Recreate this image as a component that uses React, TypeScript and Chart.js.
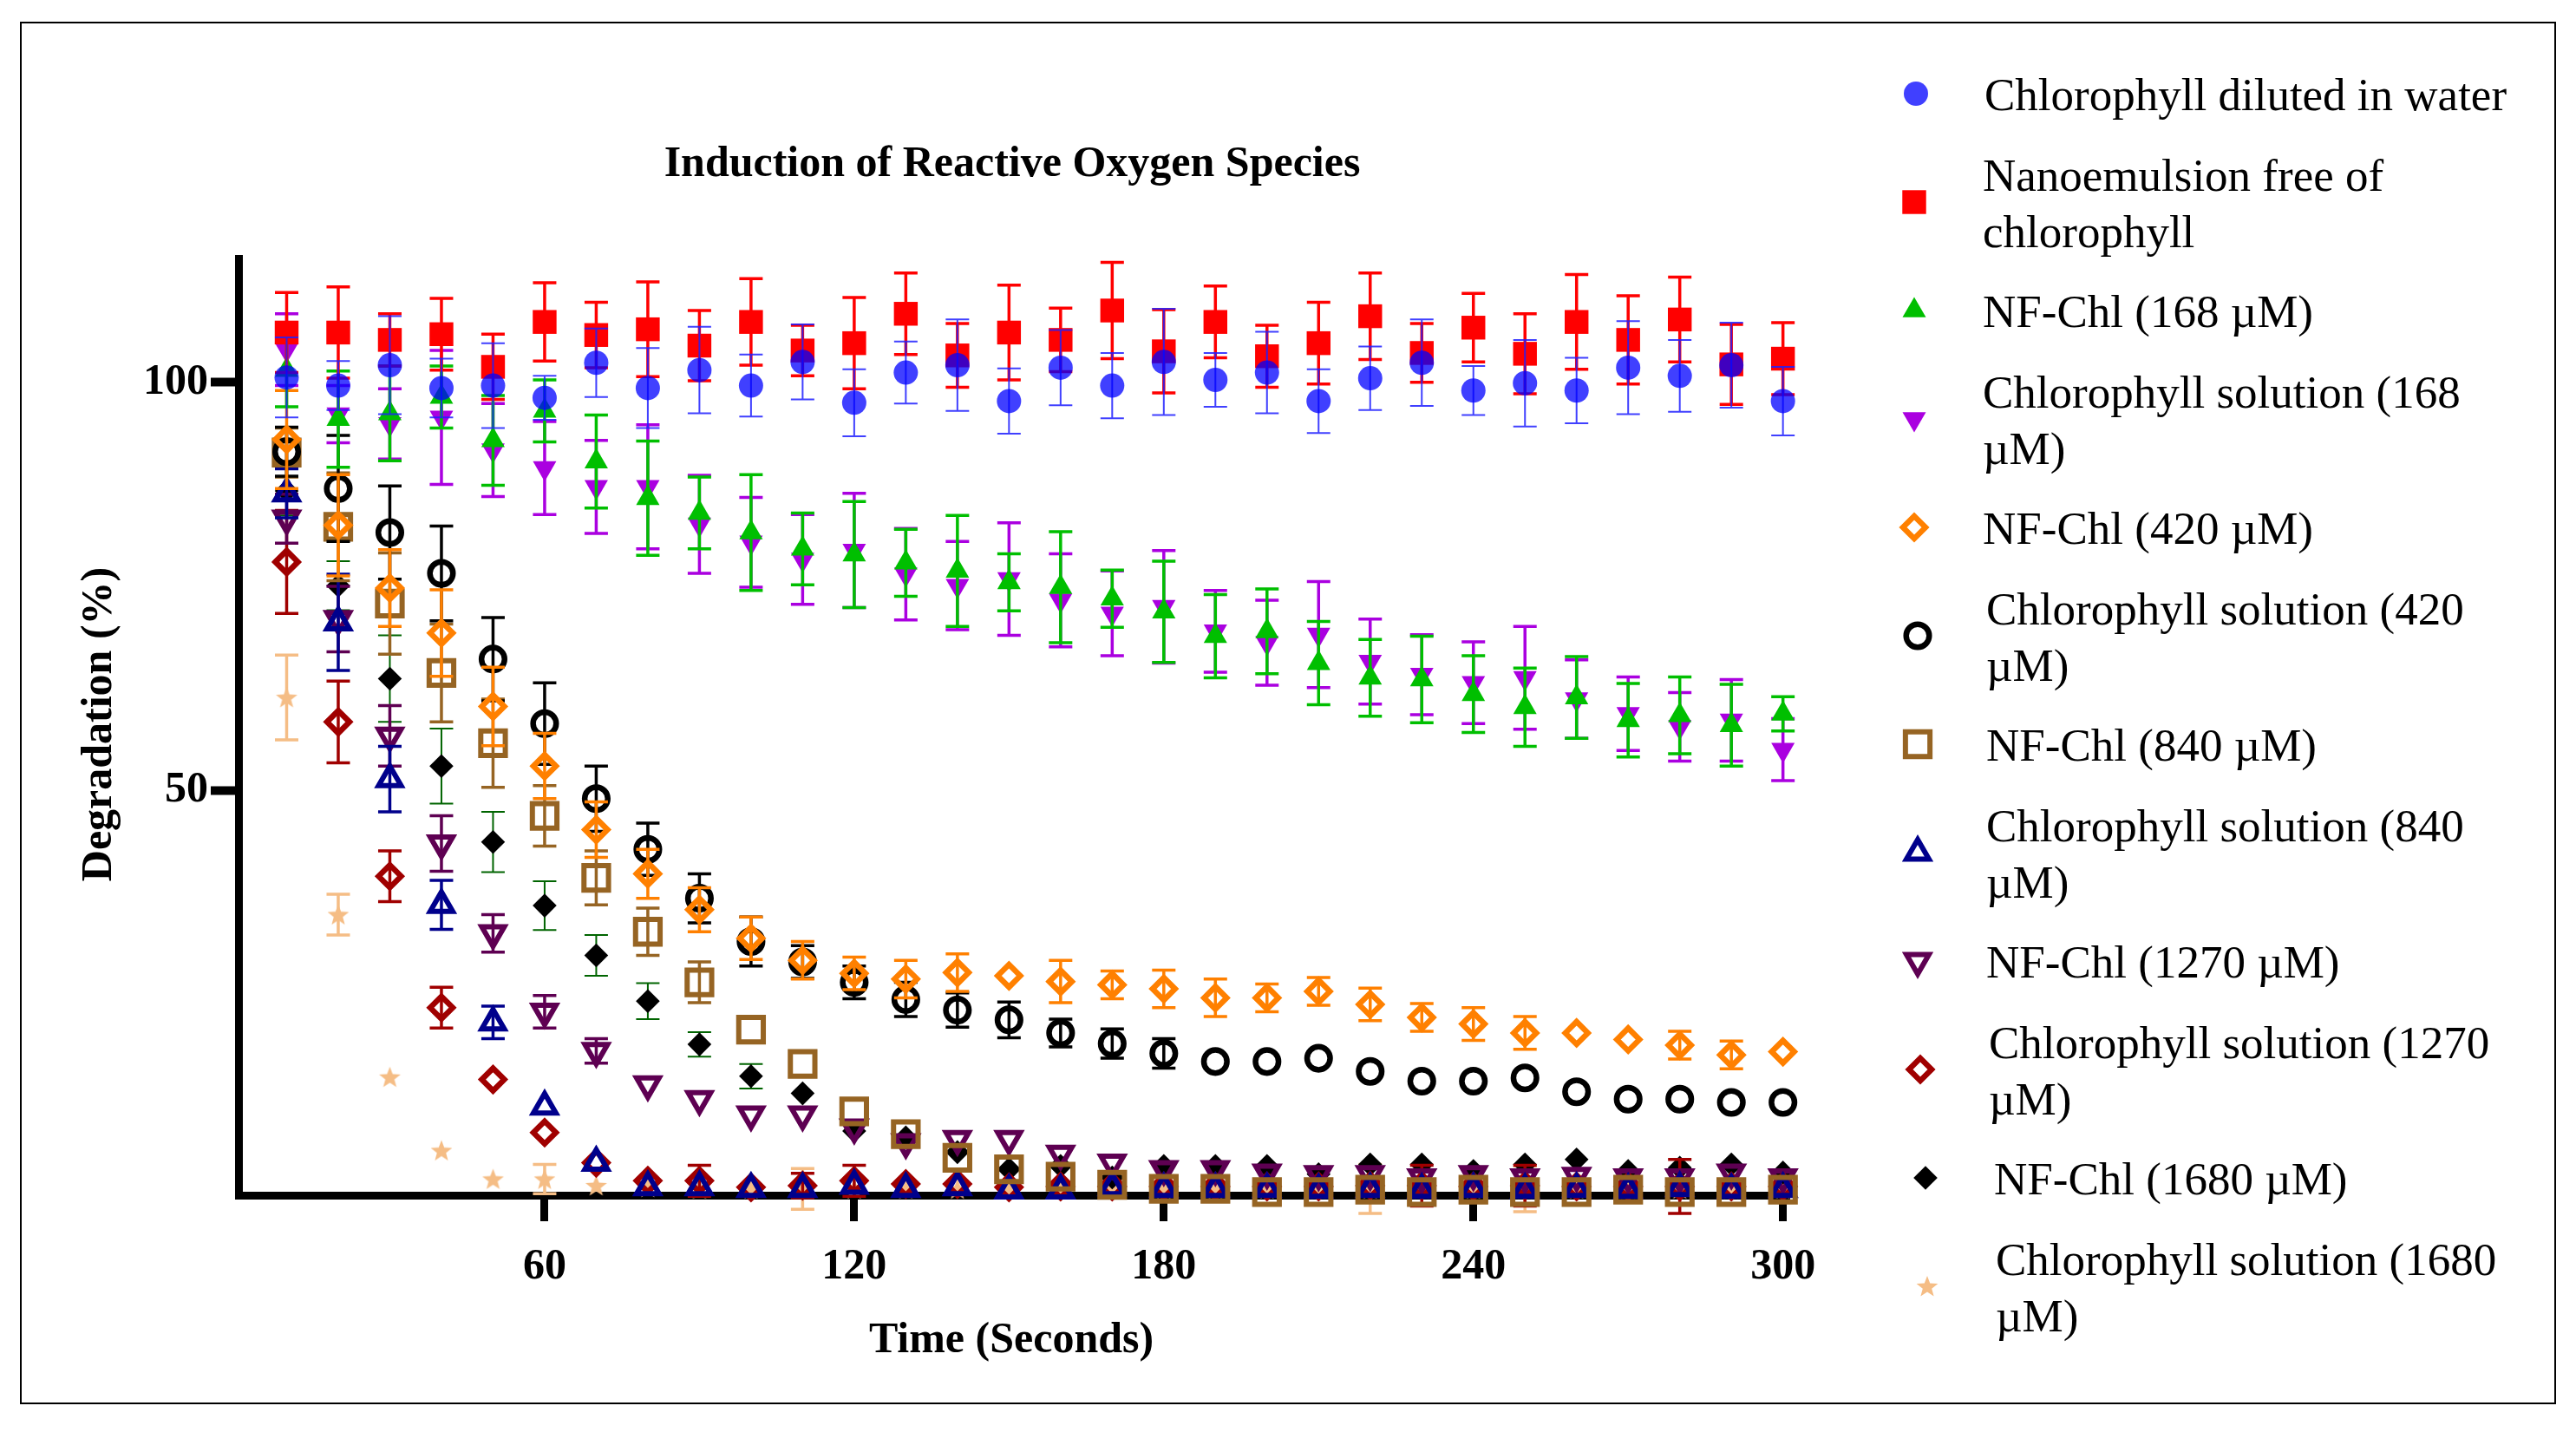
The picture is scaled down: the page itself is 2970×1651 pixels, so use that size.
import React, { useEffect, useRef } from 'react';
import { Chart, registerables, ChartConfiguration, Plugin } from 'chart.js';
import { drawPoint } from 'chart.js/helpers';

Chart.register(...registerables);

// time points (seconds)
const times = [10, 20, 30, 40, 50, 60, 70, 80, 90, 100, 110, 120, 130, 140, 150, 160, 170, 180, 190, 200, 210, 220, 230, 240, 250, 260, 270, 280, 290, 300];
const xTicks = [60, 120, 180, 240, 300];
const yTicks = [50, 100];

const chartTitle = 'Induction of Reactive Oxygen Species';
const xTitle = 'Time (Seconds)';
const yTitle = 'Degradation (%)';

const seriesNames = [
  ['Chlorophyll diluted in water'],
  ['Nanoemulsion free of', 'chlorophyll'],
  ['NF-Chl (168 µM)'],
  ['Chlorophyll solution (168', 'µM)'],
  ['NF-Chl (420 µM)'],
  ['Chlorophyll solution (420', 'µM)'],
  ['NF-Chl (840 µM)'],
  ['Chlorophyll solution (840', 'µM)'],
  ['NF-Chl (1270 µM)'],
  ['Chlorophyll solution (1270', 'µM)'],
  ['NF-Chl (1680 µM)'],
  ['Chlorophyll solution (1680', 'µM)'],
];

// degradation means
const water = [100.6, 99.6, 102.1, 99.3, 99.6, 98.1, 102.4, 99.3, 101.5, 99.6, 102.5, 97.5, 101.2, 102.1, 97.7, 101.8, 99.6, 102.5, 100.3, 101.2, 97.7, 100.5, 102.4, 99.0, 99.9, 99.0, 101.8, 100.8, 102.1, 97.7];
const nanoFree = [106.1, 106.1, 105.2, 105.9, 101.9, 107.4, 105.8, 106.5, 104.5, 107.4, 103.9, 104.8, 108.4, 103.3, 106.1, 105.2, 108.8, 103.8, 107.4, 103.2, 104.8, 108.1, 103.6, 106.7, 103.5, 107.4, 105.2, 107.7, 102.2, 102.9];
const nf168 = [101.5, 95.5, 96.2, 98.2, 92.9, 96.5, 90.3, 85.8, 84.0, 81.6, 79.6, 78.9, 77.9, 76.9, 75.5, 74.9, 73.5, 71.9, 68.9, 69.5, 65.6, 63.8, 63.6, 61.8, 60.2, 61.4, 58.6, 59.2, 58.0, 59.4];
const sol168 = [104.0, 96.1, 94.9, 95.7, 91.7, 89.5, 87.2, 87.2, 82.6, 80.4, 78.3, 79.4, 76.5, 75.1, 75.9, 73.3, 71.7, 72.5, 69.5, 68.1, 69.1, 65.8, 64.2, 63.2, 63.8, 61.2, 59.4, 57.8, 58.6, 55.0];
const nf420 = [93.0, 82.5, 74.8, 69.3, 60.3, 53.0, 45.2, 39.8, 35.4, 31.9, 29.2, 27.6, 26.9, 27.7, 27.3, 26.6, 26.2, 25.7, 24.6, 24.6, 25.4, 23.8, 22.2, 21.4, 20.3, 20.3, 19.5, 18.8, 17.6, 18.0];
const sol420 = [91.5, 87.0, 81.6, 76.6, 66.1, 58.2, 49.0, 42.8, 36.8, 31.5, 29.0, 26.5, 24.4, 23.1, 21.9, 20.3, 19.0, 17.8, 16.8, 16.8, 17.2, 15.6, 14.4, 14.4, 14.8, 13.1, 12.2, 12.2, 11.8, 11.8];
const nf840 = [91.4, 82.3, 72.9, 64.4, 55.8, 46.9, 39.3, 32.7, 26.5, 20.7, 16.5, 10.7, 7.9, 5.0, 3.6, 2.7, 1.7, 1.2, 1.2, 0.8, 0.8, 1.1, 0.8, 1.1, 0.8, 0.8, 1.1, 0.8, 0.8, 1.1];
const sol840 = [86.4, 70.6, 51.4, 36.0, 21.6, 11.3, 4.4, 1.4, 1.4, 1.2, 1.2, 1.6, 1.2, 1.4, 1.0, 1.0, 1.4, 1.2, 1.2, 1.2, 1.1, 1.2, 1.1, 1.2, 1.1, 1.2, 1.1, 1.3, 1.1, 1.2];
const nf1270 = [83.3, 71.0, 56.7, 43.5, 32.5, 22.9, 18.1, 14.0, 12.2, 10.3, 10.3, 8.7, 6.9, 7.3, 7.3, 5.5, 4.4, 3.6, 3.6, 3.2, 3.0, 3.0, 2.6, 3.0, 2.6, 2.8, 2.6, 2.6, 3.2, 2.6];
const sol1270 = [78.0, 58.4, 39.5, 23.4, 14.6, 8.1, 4.4, 2.2, 2.2, 1.4, 1.6, 2.2, 1.8, 1.8, 1.4, 1.5, 1.5, 1.5, 1.5, 1.5, 1.5, 1.6, 1.6, 1.5, 1.6, 1.5, 1.5, 1.5, 1.5, 1.5];
const nf1680 = [86.7, 75.1, 63.7, 53.0, 43.7, 35.9, 29.8, 24.2, 18.9, 15.0, 12.9, 8.3, 7.5, 5.7, 3.6, 4.0, 2.6, 4.0, 4.0, 4.0, 3.0, 4.2, 4.2, 3.4, 4.2, 4.8, 3.4, 3.8, 4.2, 3.2];
const sol1680 = [61.4, 34.8, 14.9, 5.9, 2.4, 2.4, 1.6, 1.4, 1.2, 1.2, 1.2, 1.2, 1.2, 1.2, 1.2, 1.2, 1.2, 1.2, 1.2, 1.2, 1.2, 1.2, 1.2, 1.2, 1.2, 1.2, 1.2, 1.2, 1.2, 1.2];

// error bars (± SD), 0 = hidden behind the marker
const waterErr = [4.9, 3.0, 6.0, 3.6, 5.2, 2.7, 4.2, 4.9, 5.3, 3.8, 4.6, 4.1, 3.8, 5.6, 4.0, 4.6, 4.0, 6.5, 3.3, 5.0, 3.9, 3.9, 5.3, 3.0, 5.3, 4.0, 5.7, 4.4, 5.2, 4.2];
const nanoFreeErr = [4.9, 5.6, 3.2, 4.4, 4.0, 4.8, 4.0, 5.8, 4.3, 5.3, 3.1, 5.6, 5.0, 3.9, 5.8, 3.9, 5.9, 5.1, 4.4, 3.8, 5.0, 5.3, 3.6, 4.2, 4.9, 5.8, 5.4, 5.2, 4.9, 4.4];
const nf168Err = [4.5, 5.9, 5.8, 3.8, 5.5, 3.8, 5.7, 7.0, 4.4, 7.1, 4.4, 6.5, 4.1, 6.8, 3.5, 6.8, 3.5, 6.2, 5.1, 5.2, 5.1, 4.7, 5.3, 4.7, 4.8, 5.0, 4.5, 4.7, 5.0, 2.1];
const sol168Err = [4.4, 3.5, 4.3, 8.2, 5.7, 5.7, 5.7, 7.6, 6.0, 5.5, 5.5, 7.0, 5.6, 5.4, 6.9, 5.7, 5.2, 6.9, 5.0, 5.2, 6.5, 5.2, 4.9, 5.0, 6.3, 4.8, 4.5, 4.2, 5.0, 3.8];
const nf420Err = [6.0, 6.2, 4.7, 5.3, 4.8, 4.0, 3.4, 3.0, 2.7, 2.6, 2.3, 2.0, 2.3, 2.3, 0, 2.6, 1.7, 2.3, 2.3, 1.7, 1.7, 2.0, 1.7, 2.0, 2.0, 0, 0, 1.7, 1.7, 0];
const sol420Err = [3.0, 6.5, 5.7, 5.8, 5.1, 5.0, 4.0, 3.2, 3.0, 3.0, 2.0, 2.0, 2.1, 2.1, 2.2, 1.7, 1.8, 1.8, 0, 0, 0, 0, 0, 0, 0, 0, 0, 0, 0, 0];
const nf840Err = [3.0, 6.6, 6.2, 6.0, 5.4, 3.7, 3.3, 2.9, 2.5, 0, 0, 0, 0, 0, 0, 0, 0, 0, 0, 0, 0, 0, 0, 0, 0, 0, 0, 0, 0, 0];
const sol840Err = [3.0, 5.9, 4.0, 3.0, 2.0, 0, 0, 0, 0, 0, 0, 0, 0, 0, 0, 0, 0, 0, 0, 0, 0, 0, 0, 0, 0, 0, 0, 0, 0, 0];
const nf1270Err = [3.0, 4.0, 3.7, 3.4, 2.3, 2.0, 1.5, 0, 0, 0, 0, 0, 0, 0, 0, 0, 0, 0, 0, 0, 0, 0, 0, 0, 0, 0, 0, 0, 0, 0];
const sol1270Err = [6.3, 5.0, 3.1, 2.5, 0, 0, 0, 0, 1.9, 0, 1.5, 1.9, 0, 0, 0, 0, 0, 0, 0, 0, 0, 0, 2.5, 0, 2.5, 0, 0, 3.3, 0, 0];
const nf1680Err = [3.0, 3.0, 5.3, 4.6, 3.7, 3.0, 2.5, 2.2, 1.5, 1.5, 0, 0, 0, 0, 0, 0, 0, 0, 0, 0, 0, 0, 0, 0, 0, 0, 0, 0, 0, 0];
const sol1680Err = [5.2, 2.5, 0, 0, 0, 1.8, 0, 0, 0, 0, 2.5, 0, 0, 0, 0, 0, 0, 0, 0, 0, 0, 3.0, 0, 0, 2.8, 0, 0, 0, 0, 0];

const seriesMeans = [water, nanoFree, nf168, sol168, nf420, sol420, nf840, sol840, nf1270, sol1270, nf1680, sol1680];
const seriesErrors = [waterErr, nanoFreeErr, nf168Err, sol168Err, nf420Err, sol420Err, nf840Err, sol840Err, nf1270Err, sol1270Err, nf1680Err, sol1680Err];

const NONE = 'rgba(0,0,0,0)';
const FONT = '"Liberation Serif", "Times New Roman", serif';

interface MarkStyle {
  shape: string;
  radius: number;
  rotation?: number;
  fill: string;
  stroke: string;
  strokeWidth: number;
  bar: string;
  barWidth: number;
}

const markStyles: MarkStyle[] = [
  { shape: 'circle', radius: 14, fill: 'rgba(0,0,255,0.75)', stroke: NONE, strokeWidth: 0, bar: 'rgba(30,30,255,0.85)', barWidth: 2 },
  { shape: 'rect', radius: 19.4, fill: '#ff0000', stroke: NONE, strokeWidth: 0, bar: '#ff0000', barWidth: 3.5 },
  { shape: 'triangle', radius: 15.6, fill: '#00bf00', stroke: NONE, strokeWidth: 0, bar: '#00bf00', barWidth: 3.5 },
  { shape: 'triangle', radius: 15.6, rotation: 180, fill: '#aa00e0', stroke: NONE, strokeWidth: 0, bar: '#aa00e0', barWidth: 3.5 },
  { shape: 'rectRot', radius: 13, fill: NONE, stroke: '#ff8000', strokeWidth: 6.5, bar: '#ff8000', barWidth: 3.5 },
  { shape: 'circle', radius: 13.3, fill: NONE, stroke: '#000000', strokeWidth: 6.5, bar: '#000000', barWidth: 3.5 },
  { shape: 'rect', radius: 20, fill: NONE, stroke: '#966423', strokeWidth: 6, bar: '#966423', barWidth: 3.5 },
  { shape: 'triangle', radius: 15, fill: NONE, stroke: '#00008c', strokeWidth: 6, bar: '#00008c', barWidth: 3.5 },
  { shape: 'triangle', radius: 15, rotation: 180, fill: NONE, stroke: '#5e0052', strokeWidth: 6, bar: '#5e0052', barWidth: 3.5 },
  { shape: 'rectRot', radius: 13, fill: NONE, stroke: '#a00000', strokeWidth: 6.5, bar: '#a00000', barWidth: 3.5 },
  { shape: 'rectRot', radius: 13.8, fill: '#000000', stroke: NONE, strokeWidth: 0, bar: '#006400', barWidth: 2 },
  { shape: 'star', radius: 13, fill: '#f5bd85', stroke: NONE, strokeWidth: 0, bar: '#f5bd85', barWidth: 3.5 },
];

// legend nudges seen in the original (x offset of marker / text)
const legendShift = [0, -2, -2, -2, -2, 2, 2, 2, 2, 5, 11, 13];

function makeStar(color: string, r: number): HTMLCanvasElement {
  const c = document.createElement('canvas');
  const size = Math.ceil(r * 2 + 2);
  c.width = size;
  c.height = size;
  const g = c.getContext('2d')!;
  const cx = size / 2;
  const cy = size / 2 + 1;
  g.fillStyle = color;
  g.beginPath();
  for (let k = 0; k < 10; k++) {
    const rr = k % 2 === 0 ? r : r * 0.42;
    const a = -Math.PI / 2 + (k * Math.PI) / 5;
    const px = cx + rr * Math.cos(a);
    const py = cy + rr * Math.sin(a);
    if (k === 0) g.moveTo(px, py);
    else g.lineTo(px, py);
  }
  g.closePath();
  g.fill();
  return c;
}

const errorBars: Plugin<'scatter'> = {
  id: 'errorBars',
  beforeDatasetDraw(chart, args) {
    const { ctx, scales } = chart;
    const i = args.index;
    const st = markStyles[i];
    const means = seriesMeans[i];
    const errs = seriesErrors[i];
    const cap = 13.5;
    ctx.save();
    ctx.strokeStyle = st.bar;
    ctx.lineWidth = st.barWidth;
    ctx.lineCap = 'butt';
    times.forEach((t, k) => {
      const e = errs[k];
      if (!e) return;
      const x = scales.x.getPixelForValue(t);
      const yTop = scales.y.getPixelForValue(means[k] + e);
      const yBot = scales.y.getPixelForValue(means[k] - e);
      ctx.beginPath();
      ctx.moveTo(x, yTop);
      ctx.lineTo(x, yBot);
      ctx.moveTo(x - cap, yTop);
      ctx.lineTo(x + cap, yTop);
      ctx.moveTo(x - cap, yBot);
      ctx.lineTo(x + cap, yBot);
      ctx.stroke();
    });
    ctx.restore();
  },
};

const axisLines: Plugin<'scatter'> = {
  id: 'axisLines',
  beforeDatasetsDraw(chart) {
    const { ctx, chartArea } = chart;
    ctx.save();
    ctx.fillStyle = '#000';
    // y axis
    ctx.fillRect(chartArea.left, 294, 9, chartArea.bottom + 1 - 294);
    // x axis
    ctx.fillRect(chartArea.left, chartArea.bottom - 8, chartArea.right - chartArea.left, 9);
    ctx.restore();
  },
};

const textAndLegend = (star: HTMLCanvasElement): Plugin<'scatter'> => ({
  id: 'textAndLegend',
  afterDraw(chart) {
    const { ctx } = chart;
    ctx.save();
    ctx.fillStyle = '#000';
    ctx.textBaseline = 'alphabetic';

    ctx.font = `bold 50px ${FONT}`;
    ctx.textAlign = 'center';
    ctx.fillText(chartTitle, 1167, 203);
    ctx.fillText(xTitle, 1166, 1559);

    ctx.save();
    ctx.translate(128, 835);
    ctx.rotate(-Math.PI / 2);
    ctx.fillText(yTitle, 0, 0);
    ctx.restore();

    ctx.font = `53px ${FONT}`;
    ctx.textAlign = 'left';
    seriesNames.forEach((lines, i) => {
      const slot = 127 + 125 * i;
      const st = markStyles[i];
      const dx = legendShift[i];
      ctx.save();
      ctx.fillStyle = st.fill;
      ctx.strokeStyle = st.stroke;
      ctx.lineWidth = st.strokeWidth;
      drawPoint(
        ctx,
        {
          pointStyle: st.shape === 'star' ? star : (st.shape as any),
          radius: st.radius,
          rotation: st.rotation || 0,
          borderWidth: st.strokeWidth,
        } as any,
        2209 + dx,
        slot - 19,
      );
      ctx.restore();
      lines.forEach((line, j) => {
        const y = slot + 65 * (j - (lines.length - 1) / 2);
        ctx.fillText(line, 2288 + dx, y);
      });
    });
    ctx.restore();
  },
});

const tickFont = { family: FONT, size: 50, weight: 'bold' as const };

function buildConfig(star: HTMLCanvasElement): ChartConfiguration<'scatter'> {
  return {
    type: 'scatter',
    data: {
      datasets: seriesMeans.map((means, i) => {
        const st = markStyles[i];
        return {
          label: seriesNames[i].join(' '),
          data: times.map((t, k) => ({ x: t, y: means[k] })),
          showLine: false,
          clip: false,
          pointStyle: st.shape === 'star' ? star : (st.shape as any),
          pointRadius: st.radius,
          pointHoverRadius: st.radius,
          pointRotation: st.rotation || 0,
          pointBackgroundColor: st.fill,
          pointBorderColor: st.stroke,
          pointBorderWidth: st.strokeWidth,
          pointHoverBorderWidth: st.strokeWidth,
          backgroundColor: st.fill,
          borderColor: st.stroke,
        };
      }),
    },
    options: {
      animation: false,
      responsive: true,
      maintainAspectRatio: false,
      events: [],
      layout: { padding: { left: 0, right: 906, top: 294, bottom: 0 } },
      plugins: {
        legend: { display: false },
        tooltip: { enabled: false },
        title: { display: false },
      },
      scales: {
        x: {
          type: 'linear',
          min: 0,
          max: 301.4,
          afterFit: (s) => {
            s.height = 269;
          },
          afterBuildTicks: (s) => {
            s.ticks = xTicks.map((v) => ({ value: v }));
          },
          border: { display: false },
          grid: {
            display: true,
            drawOnChartArea: false,
            drawTicks: true,
            tickLength: 26,
            tickWidth: 9,
            tickColor: '#000',
          },
          ticks: {
            color: '#000',
            font: tickFont,
            padding: 23,
            maxRotation: 0,
            autoSkip: false,
          },
        },
        y: {
          type: 'linear',
          min: 0,
          max: 115.6,
          afterFit: (s) => {
            s.width = 271;
          },
          afterBuildTicks: (s) => {
            s.ticks = yTicks.map((v) => ({ value: v }));
          },
          border: { display: false },
          grid: {
            display: true,
            drawOnChartArea: false,
            drawTicks: true,
            tickLength: 28,
            tickWidth: 10,
            tickColor: '#000',
          },
          ticks: {
            color: '#000',
            font: tickFont,
            padding: 3,
            autoSkip: false,
          },
        },
      },
    },
    plugins: [errorBars, axisLines, textAndLegend(star)],
  };
}

export default function App() {
  const canvasRef = useRef<HTMLCanvasElement>(null);

  useEffect(() => {
    document.body.style.margin = '0';
    document.body.style.overflow = 'hidden';
    if (!canvasRef.current) return;
    const star = makeStar(markStyles[11].fill, markStyles[11].radius);
    const chart = new Chart(canvasRef.current, buildConfig(star));
    return () => {
      chart.destroy();
    };
  }, []);

  return (
    <div style={{ position: 'relative', width: 2970, height: 1651, background: '#fff' }}>
      <div
        style={{
          position: 'absolute',
          left: 23,
          top: 25,
          width: 2920,
          height: 1590,
          border: '2px solid #000',
        }}
      />
      <div style={{ position: 'absolute', left: 0, top: 0, width: 2970, height: 1651 }}>
        <canvas ref={canvasRef} />
      </div>
    </div>
  );
}
